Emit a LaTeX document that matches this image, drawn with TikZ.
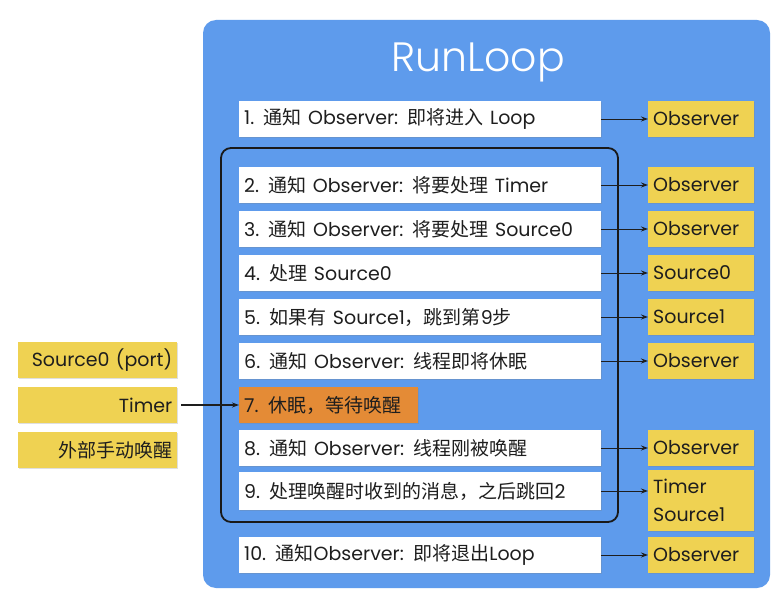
\documentclass[tikz,border=0pt]{standalone}
\usepackage{fontspec}
\setmainfont{Poppins}
\newfontfamily\cjkfont{Noto Sans CJK SC}
\newfontfamily\titlefont{Poppins Light}
\newcommand{\cj}[1]{{\cjkfont #1}}
\usetikzlibrary{shadows,arrows.meta}
\definecolor{bluebg}{RGB}{94,155,236}
\definecolor{ybox}{RGB}{239,210,82}
\definecolor{obox}{RGB}{228,139,54}
\definecolor{txt}{RGB}{30,30,30}
\tikzset{
  x=1pt,y=-1pt,
  base/.style={font=\fontsize{19}{28}\selectfont, text=txt, minimum height=36pt, inner ysep=0pt, inner xsep=5pt,
    drop shadow={shadow xshift=0.8pt, shadow yshift=-1.2pt, opacity=0.25}},
  stepbox/.style={base, fill=white, anchor=west, text width=352pt, align=left},
  sleepbox/.style={base, fill=obox, anchor=west, text width=169pt, align=left},
  obsbox/.style={base, fill=ybox, anchor=west, text width=96pt, align=left},
  srcbox/.style={base, fill=ybox, anchor=west, text width=149pt, align=right},
  arr/.style={-{Stealth[length=7pt,width=5pt]}, line width=0.9pt, draw=txt},
}
\begin{document}
\begin{tikzpicture}
\useasboundingbox (0,0) rectangle (782,604);
\fill[white] (0,0) rectangle (782,604);
\fill[bluebg, rounded corners=13pt] (203,20) rectangle (770,588);
\node[text=white, font=\titlefont\fontsize{41}{46}\selectfont] (title) at (478,62) {RunLoop};
\draw[line width=1.8pt, rounded corners=10pt, draw=black!90] (221,148) rectangle (618,522);

\node[stepbox] (s1) at (239,119) {1. \cj{通知} Observer: \cj{即将进入} Loop};
\node[stepbox] (s2) at (239,185) {2. \cj{通知} Observer: \cj{将要处理} Timer};
\node[stepbox] (s3) at (239,229) {3. \cj{通知} Observer: \cj{将要处理} Source0};
\node[stepbox] (s4) at (239,273) {4. \cj{处理} Source0};
\node[stepbox] (s5) at (239,317) {5. \cj{如果有} Source1\cj{，跳到第}9\cj{步}};
\node[stepbox] (s6) at (239,361) {6. \cj{通知} Observer: \cj{线程即将休眠}};
\node[sleepbox] (s7) at (239,405) {7. \cj{休眠，等待唤醒}};
\node[stepbox] (s8) at (239,448) {8. \cj{通知} Observer: \cj{线程刚被唤醒}};
\node[stepbox, minimum height=38pt] (s9) at (239,491) {9. \cj{处理唤醒时收到的消息，之后跳回}2};
\node[stepbox] (s10) at (239,555) {10. \cj{通知}Observer: \cj{即将退出}Loop};

\node[obsbox] (r1) at (648,119) {Observer};
\node[obsbox] (r2) at (648,185) {Observer};
\node[obsbox] (r3) at (648,229) {Observer};
\node[obsbox] (r4) at (648,273) {Source0};
\node[obsbox] (r5) at (648,317) {Source1};
\node[obsbox] (r6) at (648,361) {Observer};
\node[obsbox] (r8) at (648,448) {Observer};
\node[obsbox, minimum height=61pt] (r9) at (648,500.5) {Timer\\Source1};
\node[obsbox] (r10) at (648,555) {Observer};

\node[srcbox] (l1) at (18,360) {Source0 (port)};
\node[srcbox] (l2) at (18,405) {Timer};
\node[srcbox] (l3) at (18,450) {\cj{外部手动唤醒}};

\foreach \i in {1,2,3,4,5,6,8,10} {
  \draw[arr] (s\i.east) -- (r\i.west);
}
\draw[arr] (s9.east) -- (s9.east -| r9.west);
\draw[arr, line width=1.4pt] (l2.east) ++(4,0) coordinate (la) (la) -- (s7.west);
\end{tikzpicture}
\end{document}
